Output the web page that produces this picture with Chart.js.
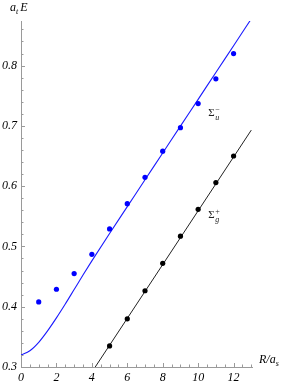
<!DOCTYPE html>
<html>
<head>
<meta charset="utf-8">
<script src="https://cdn.jsdelivr.net/npm/chart.js@4/dist/chart.umd.min.js"></script>
<style>
  html, body { margin: 0; padding: 0; background: #fff; }
  #wrap { width: 286px; height: 384px; position: relative; }
</style>
</head>
<body>
<div id="wrap"><canvas id="c" width="286" height="384"></canvas></div>
<script>
// ---- data ----
const curveR = [0, 0.5, 1, 1.5, 2, 2.5, 3, 3.5, 4, 5, 6, 7, 8, 9, 10, 11, 12, 13];
const curveE = [0.320, 0.327, 0.341, 0.360, 0.3815, 0.4045, 0.4285, 0.4525, 0.476, 0.5215, 0.566, 0.6106, 0.655, 0.6996, 0.744, 0.7886, 0.833, 0.8776];

const lineGR = [4.19, 13.0];
const lineGE = [0.300, 0.693];

const ptsUR = [1, 2, 3, 4, 5, 6, 7, 8, 9, 10, 11, 12];
const ptsUE = [0.408, 0.429, 0.455, 0.487, 0.529, 0.571, 0.6146, 0.658, 0.697, 0.737, 0.778, 0.820];

const ptsGR = [5, 6, 7, 8, 9, 10, 11, 12];
const ptsGE = [0.335, 0.380, 0.4265, 0.472, 0.517, 0.5615, 0.606, 0.650];

const xTickLabels = [0, 2, 4, 6, 8, 10, 12];
const yTickLabels = [0.3, 0.4, 0.5, 0.6, 0.7, 0.8];

const xs = (r, e) => r.map((v, i) => ({ x: v, y: e[i] }));

const AXIS = '#9a9a9a';
const TICKFONT = { family: 'Liberation Serif', size: 12, style: 'italic' };

const tickPlugin = {
  id: 'inwardTicks',
  afterDraw(chart) {
    const ctx = chart.ctx;
    const xS = chart.scales.x, yS = chart.scales.y;
    const a = chart.chartArea;
    ctx.save();
    ctx.strokeStyle = AXIS;
    ctx.lineWidth = 1;
    for (let k = 0; ; k++) {
      const v = 0.30 + k * 0.02;
      if (v > yS.max + 1e-9) break;
      const major = (k % 5) === 0;
      const py = Math.round(yS.getPixelForValue(v)) + 0.5;
      ctx.beginPath();
      ctx.moveTo(a.left, py);
      ctx.lineTo(a.left + (major ? 4 : 2.5), py);
      ctx.stroke();
    }
    for (let k = 0; ; k++) {
      const v = k * 0.5;
      if (v > xS.max + 1e-9) break;
      const major = (k % 4) === 0;
      const px = Math.round(xS.getPixelForValue(v)) + 0.5;
      ctx.beginPath();
      ctx.moveTo(px, a.bottom);
      ctx.lineTo(px, a.bottom - (major ? 4 : 2.5));
      ctx.stroke();
    }
    ctx.restore();

    ctx.save();
    ctx.fillStyle = '#000';
    ctx.textBaseline = 'alphabetic';
    const it = (s) => 'italic ' + s + 'px "Liberation Serif"';
    const up = (s) => s + 'px "Liberation Serif"';
    let x0 = 10, y0 = 11;
    ctx.font = it(12); ctx.fillText('a', x0, y0);
    x0 += ctx.measureText('a').width;
    ctx.font = it(8); ctx.fillText('t', x0, y0 + 3);
    x0 += ctx.measureText('t').width + 2;
    ctx.font = it(12); ctx.fillText('E', x0, y0);
    x0 = 259; y0 = 362.5;
    ctx.font = it(12); ctx.fillText('R/a', x0, y0);
    x0 += ctx.measureText('R/a').width;
    ctx.font = it(8); ctx.fillText('s', x0, y0 + 3);

    const sig = (rv, ev, sub, sup) => {
      let px = xS.getPixelForValue(rv), py = yS.getPixelForValue(ev);
      ctx.font = up(11); ctx.fillText('\u03A3', px, py);
      const w = ctx.measureText('\u03A3').width;
      ctx.font = it(8); ctx.fillText(sub, px + w + 0.5, py + 3.5);
      ctx.font = up(8); ctx.fillText(sup, px + w + 0.5, py - 4.5);
    };
    ctx.fillStyle = '#222';
    sig(10.57, 0.716, 'u', '\u2212');
    sig(10.57, 0.547, 'g', '+');
    ctx.restore();
  }
};

new Chart(document.getElementById('c'), {
  data: {
    datasets: [
      { type: 'line', data: xs(curveR, curveE), borderColor: '#1a1aff', borderWidth: 1.1,
        pointRadius: 0, cubicInterpolationMode: 'monotone', fill: false, order: 3 },
      { type: 'line', data: xs(lineGR, lineGE), borderColor: '#222', borderWidth: 1,
        pointRadius: 0, fill: false, order: 3 },
      { type: 'scatter', data: xs(ptsUR, ptsUE), backgroundColor: '#0000ff', borderWidth: 0,
        pointRadius: 2.6, order: 1 },
      { type: 'scatter', data: xs(ptsGR, ptsGE), backgroundColor: '#000', borderWidth: 0,
        pointRadius: 2.6, order: 1 }
    ]
  },
  options: {
    responsive: false,
    animation: false,
    events: [],
    layout: { padding: { left: 0, right: 34, top: 21, bottom: 0 } },
    plugins: { legend: { display: false }, tooltip: { enabled: false } },
    scales: {
      x: {
        type: 'linear', min: 0, max: 13.04,
        afterFit(s) { s.height = 17; },
        afterBuildTicks(s) { s.ticks = xTickLabels.map(v => ({ value: v })); },
        grid: { display: true, drawOnChartArea: false, drawTicks: false },
        border: { display: true, color: AXIS, width: 1 },
        ticks: { font: TICKFONT, color: '#000', padding: 4, maxRotation: 0,
                 autoSkip: false, callback: v => String(v) }
      },
      y: {
        type: 'linear', min: 0.3, max: 0.874,
        afterFit(s) { s.width = 21; },
        afterBuildTicks(s) { s.ticks = yTickLabels.map(v => ({ value: v })); },
        grid: { display: true, drawOnChartArea: false, drawTicks: false },
        border: { display: true, color: AXIS, width: 1 },
        ticks: { font: TICKFONT, color: '#000', padding: 4, autoSkip: false,
                 callback: v => v.toFixed(1) }
      }
    }
  },
  plugins: [tickPlugin]
});
</script>
</body>
</html>
